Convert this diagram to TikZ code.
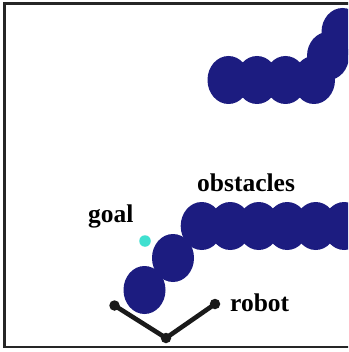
\documentclass[tikz,border=0pt]{standalone}
\usepackage{fontspec}
\setmainfont{Liberation Serif}
\definecolor{obst}{RGB}{28,28,128}
\definecolor{goalc}{RGB}{64,224,208}
\definecolor{robotc}{RGB}{26,26,26}
\tikzset{
  obstacle/.style={fill=obst},
  label text/.style={anchor=base west, inner sep=0pt, font=\fontsize{25.5}{30}\selectfont\bfseries},
  joint/.style={circle, fill=robotc, minimum size=10.5pt, inner sep=0pt},
  link/.style={draw=robotc, line width=4.6pt, line cap=round},
}
\begin{document}
\begin{tikzpicture}[x=1pt,y=-1pt]
\useasboundingbox (0,0) rectangle (348,352);
\clip (0,0) rectangle (348,352);
\fill[white] (0,0) rectangle (348,352);
% frame
\draw[line width=2.4pt, black!85] (4.5,3.5) rectangle (380,347);
% upper obstacle chain
\foreach \cx in {228.5,257,285.5,314}
  \fill[obstacle] (\cx,80) ellipse [x radius=21pt, y radius=24pt];
\fill[obstacle] (328,56) ellipse [x radius=21pt, y radius=24pt];
\fill[obstacle] (342.5,32) ellipse [x radius=21pt, y radius=24pt];
% lower obstacle chain
\fill[obstacle] (144.5,290) ellipse [x radius=21pt, y radius=24pt];
\fill[obstacle] (173,258) ellipse [x radius=21pt, y radius=24pt];
\foreach \cx in {201.7,230.2,258.7,287.2,315.7,344.2,372.7}
  \fill[obstacle] (\cx,226) ellipse [x radius=21pt, y radius=24pt];
% goal
\node[circle, fill=goalc, minimum size=11.5pt, inner sep=0pt] (goal) at (145,241) {};
% robot
\node[joint] (rl) at (114.5,305.5) {};
\node[joint] (rv) at (166,338) {};
\node[joint] (rr) at (215,304) {};
\draw[link] (rl.center) -- (rv.center) -- (rr.center);
% labels
\node[label text] (goallabel) at (88,222) {goal};
\node[label text] (obstlabel) at (197,191) {obstacles};
\node[label text] (robotlabel) at (230,311.5) {robot};
\end{tikzpicture}
\end{document}
